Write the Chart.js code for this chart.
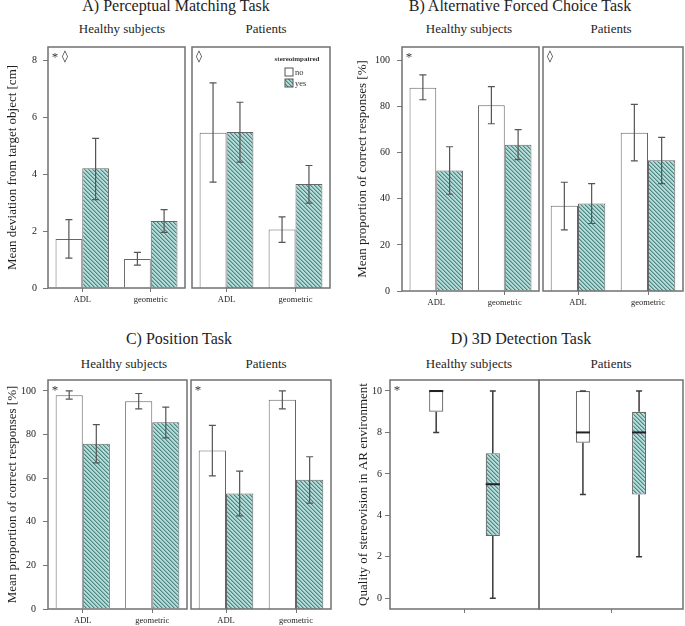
<!DOCTYPE html>
<html>
<head>
<meta charset="utf-8">
<script src="https://cdn.jsdelivr.net/npm/chart.js@4.4.1/dist/chart.umd.min.js"></script>
<style>
  body { margin: 0; background: #fff; }
  #fig { position: relative; width: 685px; height: 626px; overflow: hidden; background: #fff;
         font-family: 'Liberation Serif', 'Times New Roman', serif; color: #1e1e1e; }
  #fig canvas { position: absolute; }
  .t { position: absolute; width: 240px; text-align: center; white-space: nowrap; font-size: 16px; line-height: 16px; }
  .s { position: absolute; width: 140px; text-align: center; white-space: nowrap; font-size: 13px; line-height: 13px; }
</style>
</head>
<body>
<div id="fig">
  <div class="t" style="left:56px;top:-2px">A) Perceptual Matching Task</div>
  <div class="t" style="left:400px;top:-2px">B) Alternative Forced Choice Task</div>
  <div class="t" style="left:59px;top:331px">C) Position Task</div>
  <div class="t" style="left:401px;top:331px">D) 3D Detection Task</div>

  <div class="s" style="left:52px;top:22px">Healthy subjects</div>
  <div class="s" style="left:196px;top:22px">Patients</div>
  <div class="s" style="left:399px;top:22px">Healthy subjects</div>
  <div class="s" style="left:541px;top:22px">Patients</div>
  <div class="s" style="left:54px;top:357px">Healthy subjects</div>
  <div class="s" style="left:196px;top:357px">Patients</div>
  <div class="s" style="left:399px;top:357px">Healthy subjects</div>
  <div class="s" style="left:541px;top:357px">Patients</div>
</div>
<script>
const categories = ['ADL', 'geometric'];
const groups = ['no', 'yes'];
const legendTitle = 'stereoimpaired';

// A) Perceptual Matching Task, mean deviation [cm]
const aHealthyNo = [1.72, 1.02];
const aHealthyNoLow = [1.05, 0.80];
const aHealthyNoHigh = [2.40, 1.25];
const aHealthyYes = [4.20, 2.35];
const aHealthyYesLow = [3.10, 1.95];
const aHealthyYesHigh = [5.25, 2.75];
const aPatientsNo = [5.45, 2.05];
const aPatientsNoLow = [3.72, 1.60];
const aPatientsNoHigh = [7.20, 2.50];
const aPatientsYes = [5.48, 3.65];
const aPatientsYesLow = [4.42, 2.98];
const aPatientsYesHigh = [6.52, 4.30];
const aTicks = [0, 2, 4, 6, 8];

// B) Alternative Forced Choice Task, correct responses [%]
const bHealthyNo = [88.2, 80.6];
const bHealthyNoLow = [83.0, 72.6];
const bHealthyNoHigh = [93.8, 88.7];
const bHealthyYes = [52.3, 63.5];
const bHealthyYesLow = [42.0, 57.0];
const bHealthyYesHigh = [62.6, 70.0];
const bPatientsNo = [37.0, 68.7];
const bPatientsNoLow = [26.5, 56.5];
const bPatientsNoHigh = [47.2, 81.0];
const bPatientsYes = [38.0, 56.7];
const bPatientsYesLow = [29.3, 46.6];
const bPatientsYesHigh = [46.6, 66.7];

// C) Position Task, correct responses [%]
const cHealthyNo = [98.0, 95.3];
const cHealthyNoLow = [96.2, 91.8];
const cHealthyNoHigh = [100.0, 98.8];
const cHealthyYes = [75.8, 85.6];
const cHealthyYesLow = [67.0, 78.5];
const cHealthyYesHigh = [84.5, 92.6];
const cPatientsNo = [72.7, 96.0];
const cPatientsNoLow = [61.0, 91.8];
const cPatientsNoHigh = [84.2, 100.0];
const cPatientsYes = [53.0, 59.3];
const cPatientsYesLow = [42.7, 48.5];
const cPatientsYesHigh = [63.2, 69.8];
const pctTicks = [0, 20, 40, 60, 80, 100];

// D) 3D Detection Task: [min, q1, median, q3, max]
const dHealthyNo = [8, 9, 10, 10, 10];
const dHealthyYes = [0, 3, 5.5, 7, 10];
const dPatientsNo = [5, 7.5, 8, 10, 10];
const dPatientsYes = [2, 5, 8, 9, 10];
const dTicks = [0, 2, 4, 6, 8, 10];

const serif = "'Liberation Serif', 'Times New Roman', serif";
const fig = document.getElementById('fig');

function hatch() {
  const c = document.createElement('canvas');
  c.width = 4; c.height = 4;
  const g = c.getContext('2d');
  g.fillStyle = '#b6dcda';
  g.fillRect(0, 0, 4, 4);
  for (let i = 0; i < 4; i++) {
    g.fillStyle = '#4f8785';
    g.fillRect(i, i, 1, 1);
    g.fillStyle = '#82b4b2';
    g.fillRect((i + 1) % 4, i, 1, 1);
  }
  return g.createPattern(c, 'repeat');
}
const teal = hatch();

const frame = {
  id: 'frame',
  afterDatasetsDraw(chart) {
    const a = chart.chartArea, ctx = chart.ctx;
    ctx.save();
    ctx.strokeStyle = '#707070';
    ctx.lineWidth = 1.5;
    ctx.strokeRect(a.left, a.top, a.right - a.left, a.bottom - a.top);
    ctx.restore();
  }
};

const errorBars = {
  id: 'errorBars',
  afterDatasetsDraw(chart) {
    const ctx = chart.ctx, y = chart.scales.y;
    ctx.save();
    chart.data.datasets.forEach((ds, i) => {
      if (!ds.low) return;
      chart.getDatasetMeta(i).data.forEach((bar, j) => {
        const y1 = y.getPixelForValue(ds.low[j]);
        const y2 = y.getPixelForValue(ds.high[j]);
        ctx.strokeStyle = '#555';
        ctx.lineWidth = 1.2;
        ctx.beginPath();
        ctx.moveTo(bar.x, y1); ctx.lineTo(bar.x, y2);
        ctx.moveTo(bar.x - 3.5, y1); ctx.lineTo(bar.x + 3.5, y1);
        ctx.moveTo(bar.x - 3.5, y2); ctx.lineTo(bar.x + 3.5, y2);
        ctx.stroke();
      });
    });
    ctx.restore();
  }
};

const boxParts = {
  id: 'boxParts',
  afterDatasetsDraw(chart) {
    const ctx = chart.ctx, y = chart.scales.y;
    ctx.save();
    chart.data.datasets.forEach((ds, i) => {
      if (!ds.box) return;
      const bar = chart.getDatasetMeta(i).data[0];
      const [mn, q1, med, q3, mx] = ds.box.map(v => y.getPixelForValue(v));
      const hw = bar.width / 2;
      ctx.strokeStyle = '#3a3a3a';
      ctx.lineWidth = 1.5;
      ctx.beginPath();
      ctx.moveTo(bar.x, q3); ctx.lineTo(bar.x, mx);
      ctx.moveTo(bar.x, q1); ctx.lineTo(bar.x, mn);
      ctx.moveTo(bar.x - 3, mx); ctx.lineTo(bar.x + 3, mx);
      ctx.moveTo(bar.x - 3, mn); ctx.lineTo(bar.x + 3, mn);
      ctx.stroke();
      ctx.strokeStyle = '#222';
      ctx.lineWidth = 2;
      ctx.beginPath();
      ctx.moveTo(bar.x - hw, med); ctx.lineTo(bar.x + hw, med);
      ctx.stroke();
    });
    ctx.restore();
  }
};

const marks = {
  id: 'marks',
  afterDraw(chart, args, opts) {
    if (!opts.items) return;
    const a = chart.chartArea, ctx = chart.ctx;
    ctx.save();
    ctx.fillStyle = '#333';
    ctx.textAlign = 'center';
    ctx.textBaseline = 'middle';
    opts.items.forEach((s, k) => {
      const x = a.left + 7 + k * 10;
      if (s === '*') {
        ctx.font = '13px ' + serif;
        ctx.fillText(s, x, a.top + 11);
      } else {
        ctx.font = 'bold 12px "DejaVu Sans"';
        ctx.fillText(s, x, a.top + 10);
      }
    });
    ctx.restore();
  }
};

const key = {
  id: 'key',
  afterDraw(chart, args, opts) {
    if (!opts.show) return;
    const a = chart.chartArea, ctx = chart.ctx;
    ctx.save();
    ctx.fillStyle = '#333';
    ctx.textAlign = 'center';
    ctx.textBaseline = 'middle';
    ctx.font = 'bold 7px ' + serif;
    ctx.fillText(legendTitle, a.right - 33, a.top + 12);
    ctx.font = '8.5px ' + serif;
    ctx.textAlign = 'left';
    chart.data.datasets.forEach((ds, i) => {
      const by = a.top + 21 + i * 11;
      ctx.fillStyle = ds.backgroundColor;
      ctx.fillRect(a.right - 45, by, 8, 8);
      ctx.strokeStyle = '#555';
      ctx.lineWidth = 1;
      ctx.strokeRect(a.right - 45, by, 8, 8);
      ctx.fillStyle = '#333';
      ctx.fillText(ds.label, a.right - 35, by + 4.5);
    });
    ctx.restore();
  }
};

function barSets(no, noLow, noHigh, yes, yesLow, yesHigh) {
  return [
    { label: groups[0], data: no, low: noLow, high: noHigh, backgroundColor: '#fff', borderColor: '#666', borderWidth: 1 },
    { label: groups[1], data: yes, low: yesLow, high: yesHigh, backgroundColor: teal, borderColor: '#666', borderWidth: 1 }
  ];
}

function boxSets(no, yes) {
  return [
    { label: groups[0], data: [[no[1], no[3]]], box: no, backgroundColor: '#fff', borderColor: '#6a6a6a', borderWidth: 1.2, borderSkipped: false },
    { label: groups[1], data: [[yes[1], yes[3]]], box: yes, backgroundColor: teal, borderColor: '#6a6a6a', borderWidth: 1.2, borderSkipped: false }
  ];
}

// box = [left, top, right, bottom] of the plot frame
function panel(p) {
  const yW = p.yW || 0;
  const padL = yW ? 0 : 2;
  const [L, T, R, B] = p.box;
  const cv = document.createElement('canvas');
  cv.width = (yW || padL) + (R - L) + 2;
  cv.height = 2 + (B - T) + p.xH;
  cv.style.left = (L - (yW || padL)) + 'px';
  cv.style.top = (T - 2) + 'px';
  fig.appendChild(cv);
  new Chart(cv, {
    type: 'bar',
    data: { labels: p.labels, datasets: p.datasets },
    options: {
      responsive: false,
      animation: false,
      devicePixelRatio: 1,
      layout: { padding: { top: 2, right: 2, left: padL, bottom: 0 } },
      datasets: { bar: { categoryPercentage: p.catPct || 0.78, barPercentage: p.barPct || 1 } },
      plugins: {
        legend: { display: false },
        tooltip: { enabled: false },
        marks: { items: p.marks },
        key: { show: !!p.key }
      },
      scales: {
        x: {
          grid: { offset: false, drawOnChartArea: false, tickLength: 4, color: '#777' },
          border: { display: false },
          ticks: { display: p.showX !== false, color: '#222', padding: 3, maxRotation: 0, font: { family: serif, size: 8.5 } },
          afterFit(s) { s.height = p.xH; s.paddingLeft = 0; s.paddingRight = 0; }
        },
        y: {
          display: yW > 0,
          min: p.min,
          max: p.max,
          afterBuildTicks(s) { s.ticks = p.ticks.map(v => ({ value: v })); },
          grid: { drawOnChartArea: false, tickLength: 5, color: '#777' },
          border: { display: false },
          ticks: { color: '#222', padding: p.tickPad || 6, font: { family: serif, size: 10 } },
          title: { display: true, text: p.title, color: '#1e1e1e', padding: { top: 5, bottom: 0 }, font: { family: serif, size: 13 } },
          afterFit(s) { s.width = yW; s.paddingTop = 0; s.paddingBottom = 0; }
        }
      }
    },
    plugins: [errorBars, boxParts, frame, marks, key]
  });
}

const aTitle = 'Mean deviation from target object [cm]';
const pctTitle = 'Mean proportion of correct responses [%]';
const dTitle = 'Quality of stereovision in AR environment';

panel({ box: [48, 47, 185, 288], yW: 48, xH: 22, min: 0, max: 8.46, ticks: aTicks, title: aTitle, labels: categories,
  datasets: barSets(aHealthyNo, aHealthyNoLow, aHealthyNoHigh, aHealthyYes, aHealthyYesLow, aHealthyYesHigh), marks: ['*', '◊'] });
panel({ box: [192, 47, 330, 288], xH: 22, min: 0, max: 8.46, ticks: aTicks, title: aTitle, labels: categories,
  datasets: barSets(aPatientsNo, aPatientsNoLow, aPatientsNoHigh, aPatientsYes, aPatientsYesLow, aPatientsYesHigh), marks: ['◊'], key: true });

panel({ box: [402, 47, 539, 291], yW: 52, xH: 22, min: 0, max: 105.9, ticks: pctTicks, title: pctTitle, labels: categories, tickPad: 7,
  datasets: barSets(bHealthyNo, bHealthyNoLow, bHealthyNoHigh, bHealthyYes, bHealthyYesLow, bHealthyYesHigh), marks: ['*'] });
panel({ box: [543, 47, 683, 291], xH: 22, min: 0, max: 105.9, ticks: pctTicks, title: pctTitle, labels: categories,
  datasets: barSets(bPatientsNo, bPatientsNoLow, bPatientsNoHigh, bPatientsYes, bPatientsYesLow, bPatientsYesHigh), marks: ['◊'] });

panel({ box: [48, 380, 187, 609], yW: 48, xH: 17, min: 0, max: 105, ticks: pctTicks, title: pctTitle, labels: categories, tickPad: 7,
  datasets: barSets(cHealthyNo, cHealthyNoLow, cHealthyNoHigh, cHealthyYes, cHealthyYesLow, cHealthyYesHigh), marks: ['*'] });
panel({ box: [191, 380, 331, 609], xH: 17, min: 0, max: 105, ticks: pctTicks, title: pctTitle, labels: categories,
  datasets: barSets(cPatientsNo, cPatientsNoLow, cPatientsNoHigh, cPatientsYes, cPatientsYesLow, cPatientsYesHigh), marks: ['*'] });

panel({ box: [390, 380, 539, 609], yW: 39, xH: 12, min: -0.52, max: 10.53, ticks: dTicks, title: dTitle, labels: [''], showX: false,
  tickPad: 3, catPct: 0.76, barPct: 0.25, datasets: boxSets(dHealthyNo, dHealthyYes), marks: ['*'] });
panel({ box: [539, 380, 683, 609], xH: 12, min: -0.52, max: 10.53, ticks: dTicks, title: dTitle, labels: [''], showX: false,
  catPct: 0.78, barPct: 0.25, datasets: boxSets(dPatientsNo, dPatientsYes) });
</script>
</body>
</html>
